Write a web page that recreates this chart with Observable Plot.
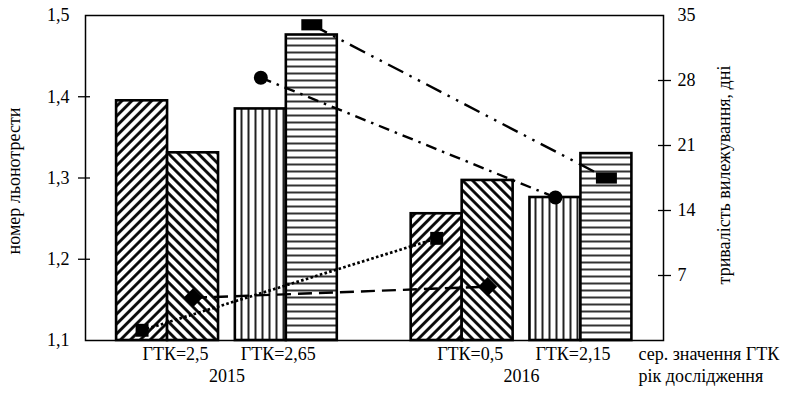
<!DOCTYPE html>
<html><head><meta charset="utf-8">
<script src="https://cdn.jsdelivr.net/npm/d3@7"></script>
<script src="https://cdn.jsdelivr.net/npm/@observablehq/plot@0.6"></script>
<style>
body{margin:0;background:#fff;}
#chart svg, #chart svg text{font-family:"Liberation Serif","Times New Roman",serif !important;}
</style>
</head><body><div id="chart"></div>
<script>
// ---- data ----
const years = ["2015", "2016"];
const gtkLabels2015 = ["ГТК=2,5", "ГТК=2,65"];
const gtkLabels2016 = ["ГТК=0,5", "ГТК=2,15"];
const variants = [0, 1, 2, 3];
const grade2015 = [1.395, 1.331, 1.385, 1.476];
const grade2016 = [1.256, 1.297, 1.276, 1.330];
const days2015 = [1.1, 4.6, 28.3, 34.0];
const days2016 = [11.0, 5.8, 15.4, 17.5];
const gradeTicks = [1.1, 1.2, 1.3, 1.4, 1.5];
const dayTicks = [7, 14, 21, 28, 35];
const leftTitle = "номер льонотрести";
const rightTitle = "тривалість вилежування, дні";
const gtkTitle = "сер. значення ГТК";
const yearTitle = "рік дослідження";

// ---- layout (units of one bar width) ----
const padL = 0.61, barW = 1, pairGap = 0.33, yearGap = 1.45, padR = 0.62;
const yearStep = 4 * barW + pairGap + yearGap;
const xMax = padL + 2 * 4 * barW + 2 * pairGap + yearGap + padR;
const slotX = (yi, v) => padL + yi * yearStep + Math.floor(v / 2) * (2 * barW + pairGap) + (v % 2) * barW;

const toLeft = d3.scaleLinear([0, 35], [1.1, 1.5]);

const rows = years.flatMap((yr, yi) => variants.map(v => ({
  year: yr, yi, v,
  grade: (yi ? grade2016 : grade2015)[v],
  days: (yi ? days2016 : days2015)[v],
  x1: slotX(yi, v), x2: slotX(yi, v) + barW, xc: slotX(yi, v) + barW / 2
})));

const gtkRows = years.flatMap((yr, yi) => (yi ? gtkLabels2016 : gtkLabels2015).map((label, p) => ({
  label, p, x: padL + yi * yearStep + p * (2 * barW + pairGap) + barW
})));
const yearRows = years.map((yr, yi) => ({label: yr, x: padL + yi * yearStep + (4 * barW + pairGap) / 2}));

const patternIds = ["hatchR", "hatchL", "hatchV", "hatchH"];
const dashes = ["2.6 2.3", "14 7", "11 6 2.5 6", "17 7 2.5 7 2.5 7"];
const rectSymbol = {draw(ctx, size) { const r = Math.sqrt(size / Math.PI); ctx.rect(-1.5 * r, -0.8 * r, 3 * r, 1.6 * r); }};
const symbols = [{symbol: "square", r: 7.3}, {symbol: d3.symbolDiamond2, r: 8.6}, {symbol: "circle", r: 7}, {symbol: rectSymbol, r: 7}];
const serif = "Liberation Serif, Times New Roman, serif";

const marks = [];
for (const v of variants) {
  marks.push(Plot.rectY(rows.filter(d => d.v === v), {
    x1: "x1", x2: "x2", y1: 1.1, y2: "grade",
    fill: `url(#${patternIds[v]})`, stroke: "black", strokeWidth: 2.6
  }));
}
for (const v of variants) {
  marks.push(Plot.line(rows.filter(d => d.v === v), {
    x: "xc", y: d => toLeft(d.days), stroke: "black", strokeWidth: v === 0 ? 2.7 : 2.4,
    strokeDasharray: dashes[v], strokeLinecap: "butt"
  }));
}
for (const v of variants) {
  marks.push(Plot.dot(rows.filter(d => d.v === v), {
    x: "xc", y: d => toLeft(d.days), fill: "black", stroke: "none", symbol: symbols[v].symbol, r: symbols[v].r
  }));
}
marks.push(
  Plot.frame({stroke: "black", strokeWidth: 1.5}),
  Plot.axisY(gradeTicks, {anchor: "left", tickSize: 0, tickPadding: 16, fontSize: 18, fontFamily: serif, label: null,
    tickFormat: d => d.toFixed(1).replace(".", ",")}),
  Plot.axisY(gradeTicks.slice(1, -1), {anchor: "left", tickSize: 12, dx: 5, strokeWidth: 1.3, label: null,
    tickFormat: () => ""}),
  Plot.axisY(dayTicks.map(toLeft), {anchor: "right", tickSize: 0, tickPadding: 14, fontSize: 18, fontFamily: serif, label: null,
    tickFormat: d => String(Math.round(toLeft.invert(d)))}),
  Plot.axisY(dayTicks.slice(0, -1).map(toLeft), {anchor: "right", tickSize: 13, dx: -6, strokeWidth: 1.3, label: null,
    tickFormat: () => ""}),
  Plot.text(gtkRows.filter(d => d.p === 0), {x: "x", text: "label", frameAnchor: "bottom", dy: 19, dx: 8, fontSize: 18, fontFamily: serif}),
  Plot.text(gtkRows.filter(d => d.p === 1), {x: "x", text: "label", frameAnchor: "bottom", dy: 19, dx: -8, fontSize: 18, fontFamily: serif}),
  Plot.text(yearRows, {x: "x", text: "label", frameAnchor: "bottom", dy: 41, fontSize: 18, fontFamily: serif}),
  Plot.text([gtkTitle], {text: d => d, frameAnchor: "bottom-right", dx: -25, dy: 19, textAnchor: "start", fontSize: 18, fontFamily: serif}),
  Plot.text([yearTitle], {text: d => d, frameAnchor: "bottom-right", dx: -25, dy: 41, textAnchor: "start", fontSize: 18, fontFamily: serif}),
  Plot.text([leftTitle], {text: d => d, frameAnchor: "left", textAnchor: "middle", rotate: -90, dx: -71, dy: 3, fontSize: 18, fontFamily: serif}),
  Plot.text([rightTitle], {text: d => d, frameAnchor: "right", textAnchor: "middle", rotate: -90, dx: 61, dy: -3, fontSize: 18, fontFamily: serif})
);

const svg = Plot.plot({
  width: 789, height: 395,
  marginLeft: 85, marginRight: 126, marginTop: 15, marginBottom: 55,
  x: {type: "linear", domain: [0, xMax], axis: null},
  y: {domain: [1.1, 1.5], axis: null},
  style: "font-family: 'Liberation Serif', 'Times New Roman', serif; font-size: 18px; color: black; background: white; overflow: visible;",
  marks
});

// force serif font inline on every text
d3.select(svg).selectAll("text").style("font-family", "'Liberation Serif', 'Times New Roman', serif");

// hatch patterns
const defs = d3.select(svg).insert("defs", ":first-child");
const mk = (id, rot, sw, color) => {
  const p = defs.append("pattern").attr("id", id).attr("patternUnits", "userSpaceOnUse")
    .attr("width", 7).attr("height", 7).attr("patternTransform", `rotate(${rot})`);
  p.append("rect").attr("width", 7).attr("height", 7).attr("fill", "white");
  p.append("line").attr("x1", 3.5).attr("x2", 3.5).attr("y1", -1).attr("y2", 8)
    .attr("stroke", color).attr("stroke-width", sw);
};
mk("hatchR", 45, 2.8, "black");
mk("hatchL", -45, 2.8, "black");
mk("hatchV", 0, 2, "#222");
mk("hatchH", 90, 2, "#333");

document.getElementById("chart").appendChild(svg);
</script>
</body></html>
